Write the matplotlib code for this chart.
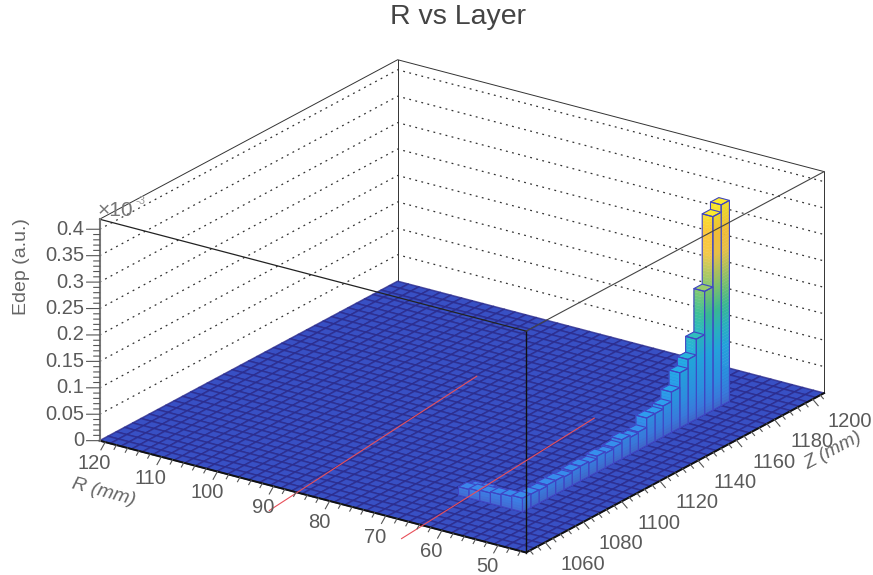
import numpy as np
import matplotlib
matplotlib.use('Agg')
import matplotlib.pyplot as plt
from matplotlib.colors import LinearSegmentedColormap
from mpl_toolkits.mplot3d import proj3d
from mpl_toolkits.mplot3d.art3d import Poly3DCollection

plt.rcParams['font.family'] = ['Liberation Sans', 'DejaVu Sans']

# axis ranges
r_range = [45.0, 121.0]
z_range = [1050.0, 1206.0]
edep_top = 0.419
n_r_bins = 40
n_z_bins = 36

r_ticks = [50, 60, 70, 80, 90, 100, 110, 120]
z_ticks = [1060, 1080, 1100, 1120, 1140, 1160, 1180, 1200]
edep_ticks = [0, 0.05, 0.1, 0.15, 0.2, 0.25, 0.3, 0.35, 0.4]
edep_labels = ['0', '0.05', '0.1', '0.15', '0.2', '0.25', '0.3', '0.35', '0.4']

# non empty bins, everything else sits at zero
ridge_zbin = [30, 29, 28, 27, 26, 25, 24, 23, 22, 21, 20, 19, 18, 17, 16, 15, 14, 13, 12, 11, 10, 9, 8, 7, 6]
ridge_rbin = [5] * 25
ridge_edep = [0.380, 0.366, 0.233, 0.151, 0.121, 0.104, 0.076, 0.058, 0.052, 0.052,
              0.034, 0.032, 0.036, 0.030, 0.027, 0.030, 0.025, 0.028, 0.027, 0.024,
              0.026, 0.026, 0.024, 0.025, 0.026]
arm_zbin = [6, 6, 6, 6, 6, 7, 7, 7]
arm_rbin = [6, 7, 8, 9, 10, 8, 9, 10]
arm_edep = [0.024, 0.022, 0.020, 0.018, 0.016, 0.010, 0.012, 0.010]

# red guide lines lying on the floor
guide_r = [[85.1, 90.3], [63.0, 66.9]]
guide_z = [[1033.4, 1157.2], [1037.7, 1150.0]]

bird_stops = ['#4468d0', '#3c80e6', '#2f96ea', '#25aae6', '#2bb8c8', '#3cc09a',
              '#78c878', '#f4c94a', '#fdc63a', '#f8e62c']
bird_pos = [0, 0.06, 0.15, 0.3, 0.4, 0.5, 0.6, 0.78, 0.88, 1]
bird = LinearSegmentedColormap.from_list('bird', list(zip(bird_pos, bird_stops)))

r_edges = np.linspace(r_range[0], r_range[1], n_r_bins + 1)
z_edges = np.linspace(z_range[0], z_range[1], n_z_bins + 1)
edep_max = max(ridge_edep)


def bar_color(v, shade=1.0):
    c = np.array(bird(v / edep_max))
    c[:3] = c[:3] * shade
    return np.clip(c, 0, 1)


def tick(ax, r, z, h, dr, dz, **kw):
    ax.plot([z, z + dz], [r, r + dr], [h, h], zorder=60, clip_on=False, **kw)


def label(ax, r, z, h, s, **kw):
    # plain 2D text placed through the 3D projection
    x2, y2, _ = proj3d.proj_transform(z, r, h, ax.get_proj())
    ax.text2D(x2, y2, s, transform=ax.transData, clip_on=False, zorder=70, **kw)


def draw_bar(ax, i, j, v, order):
    r0, r1 = r_edges[i], r_edges[i + 1]
    z0, z1 = z_edges[j], z_edges[j + 1]
    levels = np.linspace(0, v, max(2, int(v / 0.006) + 2))
    polys, colors = [], []
    for lo, hi in zip(levels[:-1], levels[1:]):
        polys.append([(z0, r0, lo), (z1, r0, lo), (z1, r0, hi), (z0, r0, hi)])
        colors.append(bar_color(hi, 0.95))
        polys.append([(z0, r0, lo), (z0, r1, lo), (z0, r1, hi), (z0, r0, hi)])
        colors.append(bar_color(hi))
    polys.append([(z0, r0, v), (z1, r0, v), (z1, r1, v), (z0, r1, v)])
    colors.append(bar_color(v + 0.012, 1.02))
    ax.add_collection3d(Poly3DCollection(polys, facecolors=colors, edgecolors=colors,
                                         linewidths=0.3, zorder=order))
    outline = [[(z0, r0, 0), (z1, r0, 0), (z1, r0, v), (z0, r0, v)],
               [(z0, r0, 0), (z0, r1, 0), (z0, r1, v), (z0, r0, v)],
               [(z0, r0, v), (z1, r0, v), (z1, r1, v), (z0, r1, v)]]
    ax.add_collection3d(Poly3DCollection(outline, facecolors=(0, 0, 0, 0), edgecolors='#3f45c4',
                                         linewidths=0.8, zorder=order + 0.001))


P = 1100.0
figure = plt.figure(figsize=(8.73, 5.75), dpi=100)
ax = figure.add_axes([-103 / 873, -296 / 575, P / 873, P / 575], projection='3d')
ax.set_proj_type('ortho')
ax.view_init(elev=22, azim=215)
ax.set_box_aspect((520, 521, 239), zoom=750.8 / P)
ax.computed_zorder = False
ax.set_xlim(z_range[0], z_range[1], view_margin=0)
ax.set_ylim(r_range[0], r_range[1], view_margin=0)
ax.set_zlim(0, edep_top, view_margin=0)
ax.set_axis_off()

rlo, rhi = r_range
zlo, zhi = z_range

# dotted grid on the two back walls
for h in edep_ticks[1:]:
    ax.plot([zlo, zhi, zhi], [rhi, rhi, rlo], [h, h, h], color='#333333', lw=0.9,
            ls=(0, (1.5, 3.5)), zorder=0.5, clip_on=False)

# back box edges
back_kw = dict(color='#333333', lw=0.7, zorder=0.6, clip_on=False)
ax.plot([zlo, zhi, zhi], [rhi, rhi, rlo], [edep_top] * 3, **back_kw)
ax.plot([zhi, zhi], [rhi, rhi], [0, edep_top], **back_kw)
ax.plot([zhi, zhi], [rlo, rlo], [0, edep_top], **back_kw)

# floor
floor = []
for i in range(n_r_bins):
    for j in range(n_z_bins):
        floor.append([(z_edges[j], r_edges[i], 0), (z_edges[j + 1], r_edges[i], 0),
                      (z_edges[j + 1], r_edges[i + 1], 0), (z_edges[j], r_edges[i + 1], 0)])
ax.add_collection3d(Poly3DCollection(floor, facecolors='#3850c4', edgecolors=(0.17, 0.17, 0.55, 0.8),
                                     linewidths=1.1, zorder=1))

# bars, far ones first
bars = list(zip(ridge_rbin, ridge_zbin, ridge_edep)) + list(zip(arm_rbin, arm_zbin, arm_edep))
bars.sort(key=lambda b: -(b[0] + b[1]))
for n, (i, j, v) in enumerate(bars):
    draw_bar(ax, i, j, v, 2 + n * 0.01)

# front box edges
front_kw = dict(zorder=50, clip_on=False)
ax.plot([zlo, zlo, zhi], [rhi, rlo, rlo], [0, 0, 0], color='#111111', lw=1.4, **front_kw)
ax.plot([zlo, zlo], [rlo, rlo], [0, edep_top], color='#111111', lw=1.0, **front_kw)
ax.plot([zlo, zlo], [rhi, rlo], [edep_top, edep_top], color='#222222', lw=0.9, **front_kw)
ax.plot([zlo, zhi], [rlo, rlo], [edep_top, edep_top], color='#444444', lw=0.8, **front_kw)

for gr, gz in zip(guide_r, guide_z):
    ax.plot(gz, gr, [0, 0], color='#e8505a', lw=0.8, zorder=55, clip_on=False)

# edep axis
ax.plot([zlo, zlo], [rhi, rhi], [0, edep_top], color='#777777', lw=1.5, zorder=60, clip_on=False)
tick_kw = dict(color='#555555', lw=0.8)
for h in np.arange(0, 0.4001, 0.01):
    major = abs(h / 0.05 - round(h / 0.05)) < 1e-6
    f = 1.0 if major else 0.45
    tick(ax, rhi, zlo, h, 1.55 * f, -2.24 * f, **tick_kw)
for h, lab in zip(edep_ticks, edep_labels):
    label(ax, rhi + 1.79, zlo - 2.58, h, lab, color='#5a5a5a', fontsize=14.5,
          ha='right', va='center')

# R axis
for r in np.arange(46, 121, 2):
    f = 1.0 if r % 10 == 0 else 0.55
    tick(ax, r, zlo, 0, -1.21 * f, -5.8 * f, **tick_kw)
for r in r_ticks:
    label(ax, r - 3.5, zlo - 15.9, 0, str(r), color='#5a5a5a', fontsize=14.5,
          ha='center', va='center')

# Z axis
for z in np.arange(1052, 1206, 4):
    f = 1.0 if z % 20 == 0 else 0.55
    tick(ax, rlo, z, 0, -2.11 * f, -3.33 * f, **tick_kw)
for z in z_ticks:
    label(ax, rlo - 9.4, z - 8.0, 0, str(z), color='#5a5a5a', fontsize=14.5,
          ha='center', va='center')

# titles
figure.text(458 / 873, 1 - 17 / 575, 'R vs Layer', color='#444444', fontsize=20.5,
            ha='center', va='center')
figure.text(22 / 873, 1 - 267 / 575, 'Edep (a.u.)', color='#666666', fontsize=14,
            rotation=90, ha='center', va='center')
figure.text(104 / 873, 1 - 492 / 575, 'R (mm)', color='#666666', fontsize=14,
            style='italic', rotation=-15, ha='center', va='center')
figure.text(833 / 873, 1 - 451 / 575, 'Z (mm)', color='#666666', fontsize=14,
            style='italic', rotation=28, ha='center', va='center')
figure.text(115 / 873, 1 - 210 / 575, '\u00d710', color='#777777', fontsize=15,
            ha='center', va='center')
figure.text(141 / 873, 1 - 201 / 575, '-3', color='#999999', fontsize=8,
            ha='center', va='center')

figure.savefig('out.png', dpi=100)
